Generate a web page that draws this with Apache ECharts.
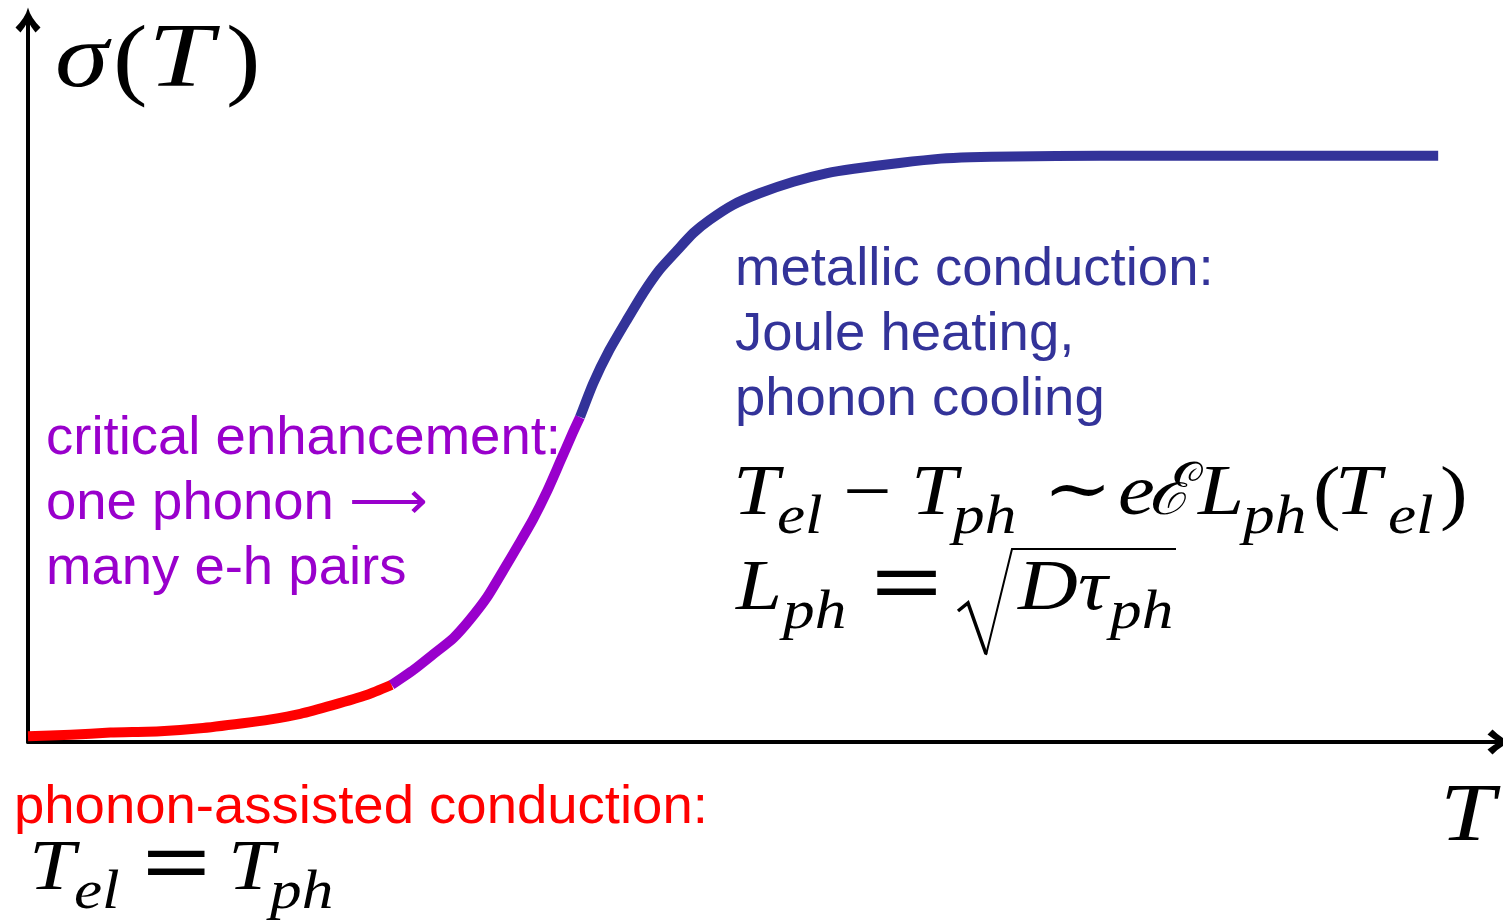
<!DOCTYPE html>
<html>
<head>
<meta charset="utf-8">
<script src="https://cdn.jsdelivr.net/npm/echarts@6/dist/echarts.min.js"></script>
<style>
  html, body { margin: 0; padding: 0; background: #fff; }
  #chart { width: 1503px; height: 923px; }
</style>
</head>
<body>
<div id="chart"></div>
<script>
// ---- data (arbitrary units: T 0..100, sigma 0..100) ----
const T_red = [0, 2.9, 5.6, 9.0, 11.7, 14.6, 16.4, 18.5, 20.7, 23.0, 24.7];
const S_red = [0.8, 1.0, 1.3, 1.5, 1.9, 2.6, 3.1, 3.9, 5.1, 6.5, 7.9];
const T_purple = [24.7, 26.2, 27.5, 28.9, 30.0, 31.2, 32.3, 33.4, 34.3, 35.3, 36.1, 37.0, 37.5];
const S_purple = [7.9, 10.0, 12.1, 14.4, 16.9, 20.1, 23.8, 27.6, 30.8, 34.9, 38.6, 42.8, 45.0];
const T_blue = [37.5, 38.4, 39.5, 40.7, 41.8, 42.9, 44.1, 45.2, 46.3, 47.9, 49.7, 52.0, 54.3, 56.1, 59.2, 62.0, 64.0, 66.9, 72.8, 95.8];
const S_blue = [45.0, 49.7, 54.3, 58.5, 62.2, 65.4, 68.1, 70.5, 72.3, 74.4, 76.0, 77.6, 78.8, 79.4, 80.2, 80.8, 81.0, 81.1, 81.2, 81.2];

const purpleTexts = ['critical enhancement:', 'one phonon \u27f6', 'many e-h pairs'];
const blueTexts = ['metallic conduction:', 'Joule heating,', 'phonon cooling'];
const redTexts = ['phonon-assisted conduction:'];

const RED = '#ff0000', PURPLE = '#9900cc', BLUE = '#333399';
const SERIF = '"Liberation Serif", "DejaVu Serif", serif';
const SANS = '"Liberation Sans", Arial, sans-serif';

const zip = (a, b) => a.map((v, i) => [v, b[i]]);

// text placed by its baseline
function txt(s, x, baseline, size, opts) {
  opts = opts || {};
  const family = opts.family || SERIF;
  const style = (opts.italic ? 'italic ' : '') + (opts.bold ? 'bold ' : '');
  return {
    type: 'text', x: x, y: baseline - 0.34 * size, z: 10,
    scaleX: opts.sx || 1,
    style: {
      text: s, font: style + size + 'px ' + family, fill: opts.color || '#000',
      textAlign: 'left', textVerticalAlign: 'middle', align: 'left', verticalAlign: 'middle'
    }
  };
}
// text placed by glyph center (for =, -)
function ctr(s, x, center, size, opts) {
  const e = txt(s, x, 0, size, opts);
  e.y = center - 0.0875 * size;
  return e;
}

const M = 72, SUB = 55, SX = 1.15;
const it = { italic: true, sx: SX };
const up = { sx: SX };
const graphics = [];
// y-axis label sigma(T)
graphics.push(txt('\u03c3', 55, 93, 90, { italic: true, sx: 1.2 }));
graphics.push(txt('(', 113, 95, 90, { sx: 1.15 }));
graphics.push(txt('T', 148, 93, 90, { italic: true, sx: 1.3 }));
graphics.push(txt(')', 226, 95, 90, { sx: 1.15 }));
// x-axis label
graphics.push(txt('T', 1440, 846, 82, { italic: true, sx: 1.2 }));

// sans annotations
const TS = 54.5;
purpleTexts.forEach((s, i) => graphics.push(txt(s, 46, 457 + i * 65, TS, { family: SANS, color: PURPLE })));
blueTexts.forEach((s, i) => graphics.push(txt(s, 735, 288 + i * 65, TS, { family: SANS, color: BLUE })));
redTexts.forEach((s) => graphics.push(txt(s, 14, 826, TS, { family: SANS, color: RED })));

// formula 1: T_el - T_ph ~ eE L_ph(T_el)
graphics.push(txt('T', 733, 520, M, it));
graphics.push(txt('el', 777, 537, SUB, it));
graphics.push(ctr('\u2212', 843, 502, M, { sx: 1.2 }));
graphics.push(txt('T', 911, 520, M, it));
graphics.push(txt('ph', 953, 537, SUB, it));
graphics.push(ctr('\u223c', 1043, 500, M, up));
graphics.push(txt('e', 1118, 520, M, it));
graphics.push(txt('\u2130', 1148, 520, M, { italic: true, sx: 1.0 }));
graphics.push(txt('L', 1198, 520, M, it));
graphics.push(txt('ph', 1243, 537, SUB, it));
graphics.push(txt('(', 1313, 522, M, up));
graphics.push(txt('T', 1335, 520, M, it));
graphics.push(txt('el', 1388, 537, SUB, it));
graphics.push(txt(')', 1440, 522, M, up));

// formula 2: L_ph = sqrt(D tau_ph)
graphics.push(txt('L', 736, 615, M, it));
graphics.push(txt('ph', 783, 632, SUB, it));
graphics.push(ctr('=', 871, 598, 90, { bold: true, sx: 1.4 }));
graphics.push({ type: 'polyline', z: 10, shape: { points: [[958, 611], [968, 603], [986, 654]] },
  style: { stroke: '#000', lineWidth: 3.5, fill: null, lineJoin: 'miter' } });
graphics.push({ type: 'polyline', z: 10, shape: { points: [[986, 655], [1012, 549], [1176, 549]] },
  style: { stroke: '#000', lineWidth: 2, fill: null } });
graphics.push(txt('D', 1018, 615, M, it));
graphics.push(txt('\u03c4', 1078, 615, M, it));
graphics.push(txt('ph', 1110, 632, SUB, it));

// bottom formula: T_el = T_ph
graphics.push(txt('T', 29, 895, M, it));
graphics.push(txt('el', 74, 912, SUB, it));
graphics.push(ctr('=', 142, 878, 90, { bold: true, sx: 1.35 }));
graphics.push(txt('T', 228, 895, M, it));
graphics.push(txt('ph', 270, 912, SUB, it));

const ARROW = 'path://M10,0 Q12,8 20,16 L16,20 Q12,15 10,11 Q8,15 4,20 L0,16 Q8,8 10,0 Z';
const axisCommon = {
  type: 'value', min: 0, max: 100,
  axisLine: { show: true, onZero: false, symbol: ['none', ARROW], symbolSize: [28, 25],
    lineStyle: { color: '#000', width: 4 } },
  axisTick: { show: false }, axisLabel: { show: false }, splitLine: { show: false }
};

const lineSeries = (data, color) => ({
  type: 'line', data: data, showSymbol: false, symbol: 'none', smooth: 0.2,
  clip: false, lineStyle: { color: color, width: 10, cap: 'butt', join: 'round' }, z: 5, silent: true
});

const chart = echarts.init(document.getElementById('chart'), null, { renderer: 'canvas' });
chart.setOption({
  backgroundColor: '#fff',
  animation: false,
  grid: { left: 28, right: 3, top: 20, bottom: 181 },
  xAxis: Object.assign({}, axisCommon),
  yAxis: Object.assign({}, axisCommon),
  series: [
    lineSeries(zip(T_red, S_red), RED),
    lineSeries(zip(T_purple, S_purple), PURPLE),
    lineSeries(zip(T_blue, S_blue), BLUE)
  ],
  graphic: graphics
});
</script>
</body>
</html>
